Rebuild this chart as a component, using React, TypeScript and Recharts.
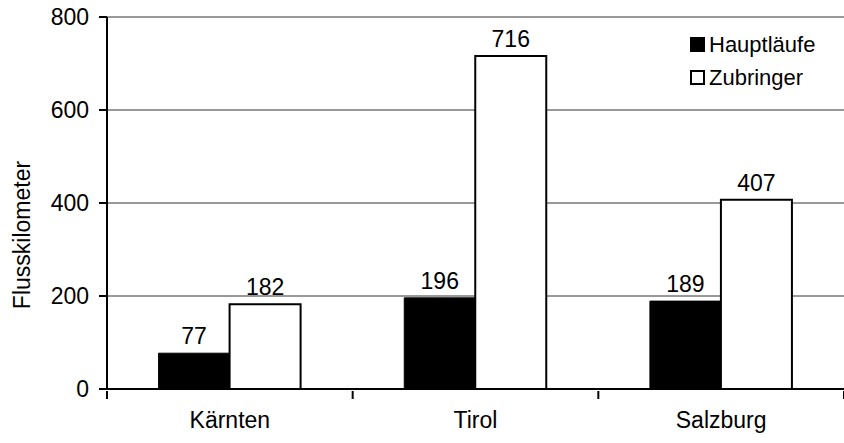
import { BarChart, Bar, XAxis, YAxis, CartesianGrid, LabelList } from 'recharts';

const regions = ['Kärnten', 'Tirol', 'Salzburg'];
const hauptlaeufe = [77, 196, 189];
const zubringer = [182, 716, 407];
const yTicks = [0, 200, 400, 600, 800];
const seriesNames = ['Hauptläufe', 'Zubringer'];

const data = regions.map((name, i) => ({
  name,
  Hauptläufe: hauptlaeufe[i],
  Zubringer: zubringer[i],
}));

const FONT = '"Liberation Sans", Arial, Helvetica, sans-serif';
const FS = 23;
const WIDTH = 844;
const HEIGHT = 443;
const PLOT_LEFT = 107;
const HALF_BAND = (WIDTH - PLOT_LEFT) / regions.length / 2;

// category tick: label in the middle, tick marks on the band boundaries
const CategoryTick = ({ x, y, payload, index }: any) => (
  <g>
    <line x1={x - HALF_BAND} x2={x - HALF_BAND} y1={y - 8} y2={y} stroke="#000" strokeWidth={2} />
    {index === regions.length - 1 && (
      <line x1={x + HALF_BAND} x2={x + HALF_BAND} y1={y - 8} y2={y} stroke="#000" strokeWidth={2} />
    )}
    <text x={x} y={y + 29} textAnchor="middle" fill="#000" fontSize={FS} fontFamily={FONT}>
      {payload.value}
    </text>
  </g>
);

const YLabel = () => (
  <text
    x={22}
    y={235}
    transform="rotate(-90 22 235)"
    textAnchor="middle"
    dominantBaseline="central"
    fill="#000"
    fontSize={FS}
    fontFamily={FONT}
  >
    Flusskilometer
  </text>
);

const App = () => {
  return (
    <div style={{ position: 'absolute', left: 0, top: 0, background: '#fff', width: WIDTH, height: HEIGHT }}>
      <BarChart
        width={WIDTH}
        height={HEIGHT}
        data={data}
        margin={{ top: 17, right: 0, bottom: 0, left: 47 }}
        barCategoryGap="21%"
        barGap={0}
      >
        <CartesianGrid vertical={false} stroke="#333" strokeWidth={1} />
        <XAxis
          dataKey="name"
          height={54}
          tick={<CategoryTick />}
          tickLine={false}
          tickSize={8}
          axisLine={{ stroke: '#000', strokeWidth: 2 }}
        />
        <YAxis
          width={60}
          domain={[0, 800]}
          ticks={yTicks}
          tickSize={8}
          tick={{ fill: '#000', fontSize: FS, fontFamily: FONT, dx: -8 }}
          tickLine={{ stroke: '#000', strokeWidth: 2 }}
          axisLine={{ stroke: '#000', strokeWidth: 2 }}
          label={<YLabel />}
        />
        <Bar dataKey="Hauptläufe" fill="#000" stroke="#000" strokeWidth={1} isAnimationActive={false}>
          <LabelList dataKey="Hauptläufe" position="top" offset={9} style={{ fill: '#000', fontSize: FS, fontFamily: FONT }} />
        </Bar>
        <Bar dataKey="Zubringer" fill="#fff" stroke="#000" strokeWidth={2} isAnimationActive={false}>
          <LabelList dataKey="Zubringer" position="top" offset={9} style={{ fill: '#000', fontSize: FS, fontFamily: FONT }} />
        </Bar>
      </BarChart>
      <div style={{ position: 'absolute', left: 690, top: 28, fontFamily: FONT, fontSize: FS - 1, color: '#000', background: '#fff' }}>
        {seriesNames.map((n, i) => (
          <div key={n} style={{ display: 'flex', alignItems: 'center', height: 33 }}>
            <span
              style={{
                display: 'inline-block',
                boxSizing: 'border-box',
                width: 15,
                height: 15,
                marginRight: 4,
                background: i === 0 ? '#000' : '#fff',
                border: '2px solid #000',
              }}
            />
            {n}
          </div>
        ))}
      </div>
    </div>
  );
};

export default App;
